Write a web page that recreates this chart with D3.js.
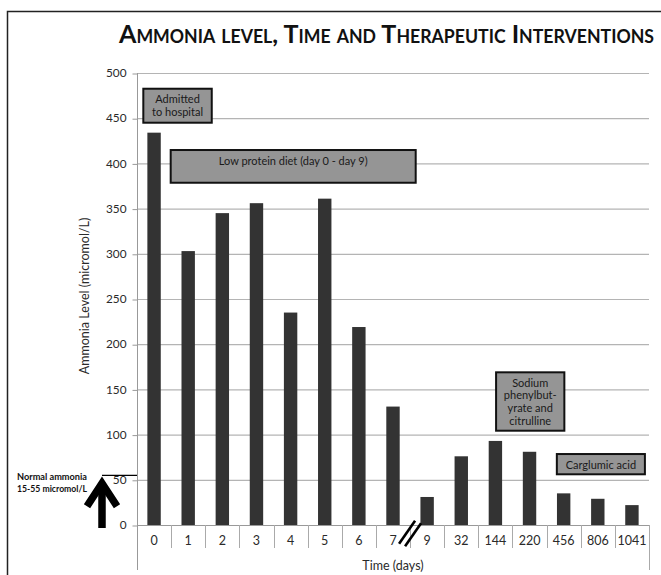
<!DOCTYPE html>
<html>
<head>
<meta charset="utf-8">
<script src="https://cdn.jsdelivr.net/npm/d3@7"></script>
<style>
  html, body { margin: 0; padding: 0; background: #fff; }
  svg { display: block; font-family: Lato, "Open Sans", sans-serif; }
</style>
</head>
<body>
<svg id="chart" width="661" height="575"></svg>
<script>
// ---- data ----
const categories = ["0", "1", "2", "3", "4", "5", "6", "7", "9", "32", "144", "220", "456", "806", "1041"];
const ammonia = [434, 303, 345, 356, 235, 361, 219, 131, 31, 76, 93, 81, 35, 29, 22];
const yTicks = [0, 50, 100, 150, 200, 250, 300, 350, 400, 450, 500];
const titleText = "Ammonia level, Time and Therapeutic Interventions";
const yTitle = "Ammonia Level (micromol/L)";
const xTitle = "Time (days)";
// annotation boxes: u = position in category steps from axis start, v = value
const boxLabels = [
  ["Admitted", "to hospital"],
  ["Low protein diet (day 0 - day 9)"],
  ["Sodium", "phenylbut-", "yrate and", "citrulline"],
  ["Carglumic acid"]
];
const boxU = [[0.185, 2.19], [0.987, 8.165], [10.52, 12.52], [12.3, 14.88]];
const boxV = [[482.6, 445], [414.8, 378.6], [168.9, 104.3], [78.5, 56.1]];
const normalRange = [15, 55];
const normalLabel = ["Normal ammonia", "15-55 micromol/L"];

(function () {
// ---- layout ----
const svg = d3.select("#chart");
const pLeft = 137, pRight = 649, pTop = 73, pBottom = 525;

const x = d3.scaleBand().domain(categories).range([pLeft, pRight]).padding(0);
const y = d3.scaleLinear().domain([0, 500]).range([pBottom, pTop]);
const step = x.step();
const xu = u => pLeft + u * step;

// outer frame
svg.append("rect").attr("x", 7.5).attr("y", 11.5).attr("width", 700).attr("height", 700)
  .attr("fill", "none").attr("stroke", "#222").attr("stroke-width", 1.5);

// title (small caps)
svg.append("text").attr("x", 119).attr("y", 43)
  .attr("font-weight", 700).attr("fill", "#111").attr("font-size", 25.5)
  .style("font-variant", "small-caps")
  .attr("textLength", 535).attr("lengthAdjust", "spacingAndGlyphs")
  .text(titleText);

// gridlines
svg.append("g").selectAll("line").data(yTicks.filter(d => d > 0)).join("line")
  .attr("x1", pLeft).attr("x2", pRight)
  .attr("y1", d => y(d) + 0.5).attr("y2", d => y(d) + 0.5)
  .attr("stroke", "#b4b4b4").attr("stroke-width", 1.2);

// y axis
const yAxis = svg.append("g").attr("transform", `translate(${pLeft + 0.5},0)`)
  .call(d3.axisLeft(y).tickValues(yTicks).tickSize(5).tickPadding(6));
yAxis.select(".domain").remove();
yAxis.selectAll(".tick line").attr("stroke", "#999").attr("transform", "translate(0,0.5)");
yAxis.selectAll(".tick text").attr("font-family", "Lato, sans-serif").attr("font-size", 11.8).attr("fill", "#2a2a2a");
svg.append("line").attr("x1", pLeft + 0.5).attr("x2", pLeft + 0.5).attr("y1", pTop).attr("y2", 570)
  .attr("stroke", "#999");

// x axis
svg.append("line").attr("x1", pLeft).attr("x2", pRight).attr("y1", pBottom + 0.5).attr("y2", pBottom + 0.5)
  .attr("stroke", "#999");
const bounds = d3.range(1, categories.length).map(i => pLeft + i * step);
svg.append("g").selectAll("line").data(bounds).join("line")
  .attr("x1", d => Math.round(d) + 0.5).attr("x2", d => Math.round(d) + 0.5)
  .attr("y1", pBottom).attr("y2", 548).attr("stroke", "#aaa");
svg.append("line").attr("x1", pRight + 0.5).attr("x2", pRight + 0.5).attr("y1", pBottom).attr("y2", 570)
  .attr("stroke", "#aaa");
svg.append("g").selectAll("text").data(categories).join("text")
  .attr("x", d => x(d) + x.bandwidth() / 2).attr("y", 544.5)
  .attr("text-anchor", "middle").attr("font-size", 12.5).attr("fill", "#2a2a2a")
  .text(d => d);

// axis titles
svg.append("text").attr("x", (pLeft + pRight) / 2).attr("y", 569.5).attr("text-anchor", "middle")
  .attr("font-size", 12.5).attr("fill", "#2a2a2a").text(xTitle);
svg.append("text").attr("transform", `translate(89,296) rotate(-90)`).attr("text-anchor", "middle")
  .attr("font-size", 12.5).attr("fill", "#2a2a2a").text(yTitle);

// bars
const bw = 13.4;
svg.append("g").selectAll("rect").data(categories).join("rect")
  .attr("x", (d) => x(d) + x.bandwidth() / 2 - bw / 2)
  .attr("y", (d, i) => y(ammonia[i]))
  .attr("width", bw)
  .attr("height", (d, i) => y(0) - y(ammonia[i]))
  .attr("fill", "#333");

// axis break marks between 7 and 9
const bx = pLeft + 8 * step;
[-3, 3].forEach(o => {
  svg.append("line").attr("x1", bx + o - 8).attr("y1", 545 + o * 0.4).attr("x2", bx + o + 8).attr("y2", 522 + o * 0.4)
    .attr("stroke", "#000").attr("stroke-width", 2.6);
});

// annotation boxes
boxLabels.forEach((lines, i) => {
  const x1 = xu(boxU[i][0]), x2 = xu(boxU[i][1]);
  const y1 = y(boxV[i][0]), y2 = y(boxV[i][1]);
  svg.append("rect").attr("x", x1).attr("y", y1).attr("width", x2 - x1).attr("height", y2 - y1)
    .attr("fill", "#959595").attr("stroke", "#111").attr("stroke-width", 2);
  const lh = 12.6;
  const firstY = y1 + 14.5;
  lines.forEach((t, j) => {
    svg.append("text").attr("x", (x1 + x2) / 2).attr("y", firstY + j * lh)
      .attr("text-anchor", "middle").attr("font-size", 11).attr("fill", "#1a1a1a").text(t);
  });
});

// normal range annotation
const ax = 102;
svg.append("line").attr("x1", ax).attr("x2", pLeft).attr("y1", y(normalRange[1])).attr("y2", y(normalRange[1]))
  .attr("stroke", "#000").attr("stroke-width", 1.2);
svg.append("path")
  .attr("d", `M${ax},${y(0) + 3} L${ax},${y(normalRange[1]) + 10}`)
  .attr("stroke", "#000").attr("stroke-width", 7.5).attr("fill", "none");
svg.append("path")
  .attr("d", `M${ax - 15},${y(normalRange[1]) + 31} L${ax},${y(normalRange[1]) + 8} L${ax + 15},${y(normalRange[1]) + 31}`)
  .attr("stroke", "#000").attr("stroke-width", 7.5).attr("fill", "none")
  .attr("stroke-linejoin", "miter").attr("stroke-miterlimit", 10);
normalLabel.forEach((t, j) => {
  svg.append("text").attr("x", 17).attr("y", 480 + j * 11.5)
    .attr("font-size", 9.5).attr("font-weight", 700).attr("fill", "#111")
    .attr("textLength", 70).attr("lengthAdjust", "spacingAndGlyphs").text(t);
});
})();
</script>
</body>
</html>
